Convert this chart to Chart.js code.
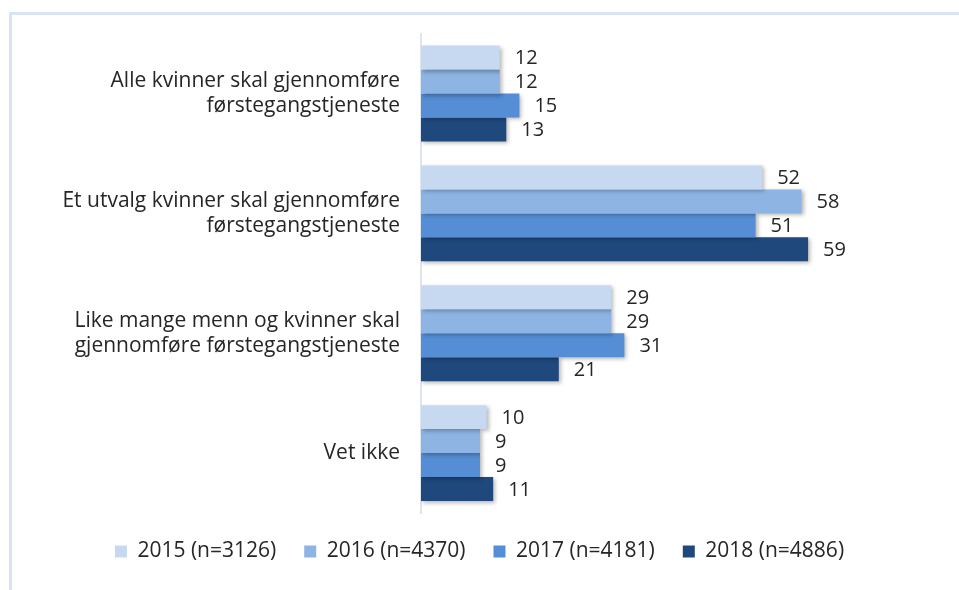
<!DOCTYPE html>
<html>
<head>
<meta charset="utf-8">
<script src="https://cdn.jsdelivr.net/npm/chart.js@4.4.1/dist/chart.umd.min.js"></script>
<style>
    html, body { margin: 0; padding: 0; background: #fff; }
    #wrap { position: relative; width: 959px; height: 590px; overflow: hidden; }
    #frame {
        position: absolute; left: 9px; top: 12px; right: -10px; bottom: -10px;
        border-top: 3px solid #d8e4f4; border-left: 3px solid #d8e4f4;
    }
    canvas { position: absolute; left: 0; top: 0; }
</style>
</head>
<body>
<div id="wrap">
    <div id="frame"></div>
    <canvas id="chart" width="959" height="590"></canvas>
</div>
<script>
// ==================== Data ====================
const categories = [
    ['Alle kvinner skal gjennomføre', 'førstegangstjeneste'],
    ['Et utvalg kvinner skal gjennomføre', 'førstegangstjeneste'],
    ['Like mange menn og kvinner skal', 'gjennomføre førstegangstjeneste'],
    'Vet ikke'
];
const seriesNames = ['2015 (n=3126)', '2016 (n=4370)', '2017 (n=4181)', '2018 (n=4886)'];
const values2015 = [12, 52, 29, 10];
const values2016 = [12, 58, 29, 9];
const values2017 = [15, 51, 31, 9];
const values2018 = [13, 59, 21, 11];
const seriesColors = ['#c6d9f1', '#8db4e3', '#558ed5', '#1f487c'];

const FONT = '"Open Sans", "Noto Sans", sans-serif';
const TEXT_COLOR = '#262626';

// ==================== Plugins ====================
// soft drop shadow under the bars
const barShadow = {
    id: 'barShadow',
    beforeDatasetsDraw(chart) {
        const ctx = chart.ctx;
        ctx.save();
        ctx.shadowColor = 'rgba(0, 0, 0, 0.28)';
        ctx.shadowBlur = 4;
        ctx.shadowOffsetX = 2;
        ctx.shadowOffsetY = 2;
    },
    afterDatasetsDraw(chart) {
        chart.ctx.restore();
    }
};

// value printed right of each bar
const valueLabels = {
    id: 'valueLabels',
    afterDatasetsDraw(chart) {
        const ctx = chart.ctx;
        ctx.save();
        ctx.font = '20px ' + FONT;
        ctx.fillStyle = TEXT_COLOR;
        ctx.textAlign = 'left';
        ctx.textBaseline = 'middle';
        chart.data.datasets.forEach((ds, i) => {
            chart.getDatasetMeta(i).data.forEach((bar, j) => {
                ctx.fillText(ds.data[j], bar.x + 15, bar.y + 1);
            });
        });
        ctx.restore();
    }
};

// ==================== Chart ====================
const allValues = [values2015, values2016, values2017, values2018];

new Chart(document.getElementById('chart').getContext('2d'), {
    type: 'bar',
    data: {
        labels: categories,
        datasets: allValues.map((vals, i) => ({
            label: seriesNames[i],
            data: vals,
            backgroundColor: seriesColors[i],
            borderWidth: 0,
            barPercentage: 1,
            categoryPercentage: 0.8
        }))
    },
    options: {
        indexAxis: 'y',
        responsive: false,
        animation: false,
        layout: { padding: { top: 30, right: 0, bottom: 18, left: 0 } },
        scales: {
            x: {
                display: false,
                min: 0,
                max: 82
            },
            y: {
                grid: { display: false, drawTicks: false },
                border: { display: true, color: '#dfe5ee', width: 2 },
                ticks: {
                    padding: 21,
                    color: TEXT_COLOR,
                    font: { family: FONT, size: 21, lineHeight: 1.2 }
                },
                afterFit(scale) { scale.width = 421; }
            }
        },
        plugins: {
            legend: {
                position: 'bottom',
                labels: {
                    boxWidth: 12,
                    boxHeight: 12,
                    padding: 28,
                    color: TEXT_COLOR,
                    font: { family: FONT, size: 21 }
                }
            },
            tooltip: { enabled: false }
        }
    },
    plugins: [barShadow, valueLabels]
});
</script>
</body>
</html>
